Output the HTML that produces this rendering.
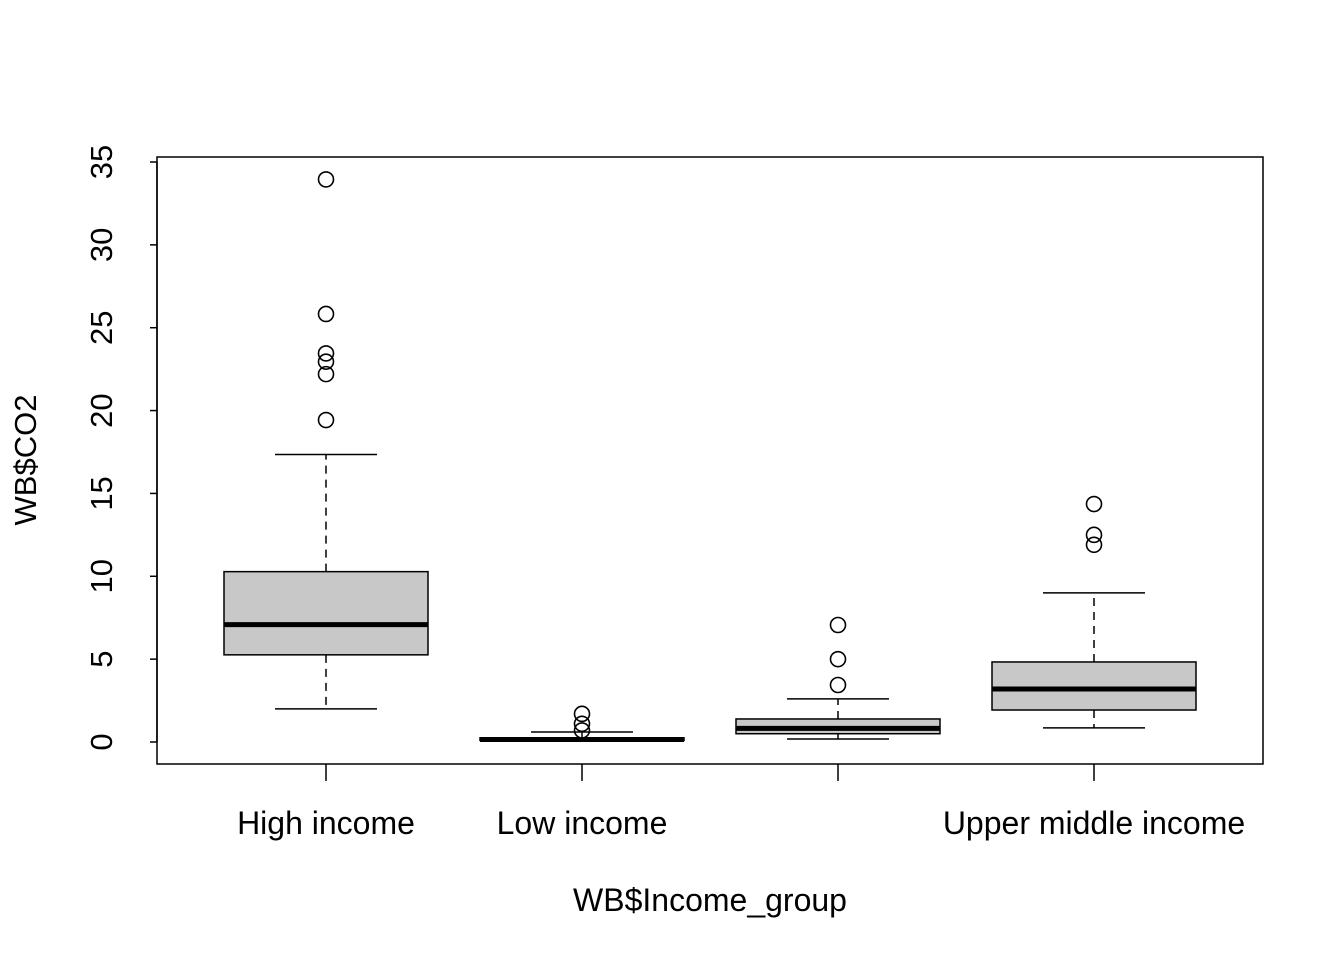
<!DOCTYPE html>
<html><head><meta charset="utf-8"><style>
body{margin:0;background:#fff}
svg text{font-family:"Liberation Sans",sans-serif;fill:#000}
</style></head><body>
<svg id="chart" width="1344" height="960" xmlns="http://www.w3.org/2000/svg"></svg>
<script>
const categories=["High income","Low income","Lower middle income","Upper middle income"];
const tickShown=[true,true,false,true];
const whiskLow=[2.0,0.05,0.18,0.85];
const q1=[5.26,0.1,0.5,1.93];
const median=[7.08,0.15,0.82,3.2];
const q3=[10.28,0.25,1.39,4.83];
const whiskHigh=[17.35,0.6,2.6,9.0];
const outliers=[[19.43,22.2,22.95,23.45,25.83,33.95],[0.7,1.1,1.7],[3.44,5.0,7.06],[11.9,12.5,14.36]];
const yTicks=[0,5,10,15,20,25,30,35];
const NS="http://www.w3.org/2000/svg";
const svg=document.getElementById('chart');
const y=v=>742-v*(580/35);
const x=i=>326+i*256;
function mk(tag,attrs,parent){const e=document.createElementNS(NS,tag);for(const k in attrs)e.setAttribute(k,attrs[k]);(parent||svg).appendChild(e);return e;}
const frame=mk('rect',{x:157,y:157,width:1106,height:607,fill:'none',stroke:'#000','stroke-width':1.5});


const yax=mk('g',{});


mk('line',{x1:157,x2:157,y1:y(0),y2:y(35),stroke:'#000','stroke-width':1.5},yax);
yTicks.forEach(t=>{
 mk('line',{x1:150,x2:157,y1:y(t),y2:y(t),stroke:'#000','stroke-width':1.5},yax);
 const tx=mk('text',{x:112,y:y(t),'font-size':31,'text-anchor':'middle',transform:`rotate(-90 112 ${y(t)})`},yax);
 tx.textContent=t;
 
 
});
categories.forEach((c,i)=>{
 const g=mk('g',{});
 
 
 const cx=x(i);
 mk('line',{x1:cx,x2:cx,y1:y(q3[i]),y2:y(whiskHigh[i]),stroke:'#000','stroke-width':1.5,'stroke-dasharray':'8,6'},g);
 mk('line',{x1:cx,x2:cx,y1:y(q1[i]),y2:y(whiskLow[i]),stroke:'#000','stroke-width':1.5,'stroke-dasharray':'8,6'},g);
 mk('line',{x1:cx-51,x2:cx+51,y1:y(whiskHigh[i]),y2:y(whiskHigh[i]),stroke:'#000','stroke-width':1.5},g);
 mk('line',{x1:cx-51,x2:cx+51,y1:y(whiskLow[i]),y2:y(whiskLow[i]),stroke:'#000','stroke-width':1.5},g);
 mk('rect',{x:cx-102,y:y(q3[i]),width:204,height:Math.max(1,y(q1[i])-y(q3[i])),fill:'#c8c8c8',stroke:'#000','stroke-width':1.5},g);
 mk('line',{x1:cx-102,x2:cx+102,y1:y(median[i]),y2:y(median[i]),stroke:'#000','stroke-width':5},g);
 outliers[i].forEach(o=>{const p=mk('circle',{cx:cx,cy:y(o),r:7.5,fill:'none',stroke:'#000','stroke-width':1.6},g);
  
  });
 mk('line',{x1:cx,x2:cx,y1:764,y2:781,stroke:'#000','stroke-width':1.5});
 if(tickShown[i]){const t=mk('text',{x:cx,y:834,'font-size':32,'text-anchor':'middle'});t.textContent=c;
  
  }
});
const xt=mk('text',{x:710,y:911,'font-size':32,'text-anchor':'middle'});xt.textContent='WB$Income_group';


const yt=mk('text',{x:36,y:460,'font-size':31,'text-anchor':'middle',transform:'rotate(-90 36 460)'});yt.textContent='WB$CO2';


</script>
</body></html>
